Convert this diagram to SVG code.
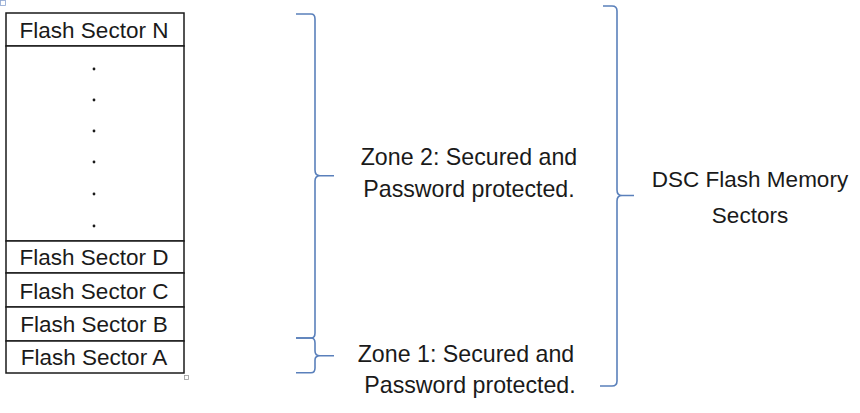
<svg xmlns="http://www.w3.org/2000/svg" width="860" height="413" viewBox="0 0 860 413">
<style>
.cell{fill:#fff;stroke:#1a1a1a;stroke-width:1.5}
.t{font-family:"Liberation Sans",Arial,sans-serif;font-size:22.5px;fill:#1a1a1a;text-anchor:middle}
.z{font-size:23.2px}
.dot{fill:#1a1a1a}
.brace{fill:none;stroke:#5a80bb;stroke-width:1.6;stroke-linejoin:round}
</style>
<rect width="860" height="413" fill="#fff"/>
<g id="sector-n"><rect class="cell" x="6" y="13" width="178" height="33"/><text class="t" x="94" y="37.5">Flash Sector N</text></g>
<g id="sector-gap"><rect class="cell" x="6" y="46" width="178" height="195"/>
<circle class="dot" cx="94" cy="69" r="1.4"/><circle class="dot" cx="94" cy="100" r="1.4"/><circle class="dot" cx="94" cy="131" r="1.4"/><circle class="dot" cx="94" cy="162" r="1.4"/><circle class="dot" cx="94" cy="194" r="1.4"/><circle class="dot" cx="94" cy="226" r="1.4"/></g>
<g id="sector-d"><rect class="cell" x="6" y="241" width="178" height="32"/><text class="t" x="94" y="265">Flash Sector D</text></g>
<g id="sector-c"><rect class="cell" x="6" y="273" width="178" height="34"/><text class="t" x="94" y="298.5">Flash Sector C</text></g>
<g id="sector-b"><rect class="cell" x="6" y="307" width="178" height="34"/><text class="t" x="94" y="332">Flash Sector B</text></g>
<g id="sector-a"><rect class="cell" x="6" y="341" width="178" height="32"/><text class="t" x="94" y="365">Flash Sector A</text></g>
<rect x="184.5" y="375.5" width="4" height="4" fill="none" stroke="#999" stroke-width="0.8"/>
<rect x="0.5" y="0.5" width="5" height="5" fill="none" stroke="#8aa4d0" stroke-width="0.8"/>
<g id="connectors">
<path class="brace" d="M296,14 L311,14 Q315,14 315,19 L315,170 Q315,175.7 320,175.7 L334,175.7 M320,175.7 Q315,175.7 315,181 L315,333 Q315,338 311,338 L296,338"/>
<path class="brace" d="M296,338 L311,338 Q315,338 315,343 L315,351 Q315,355.7 320,355.7 L334,355.7 M320,355.7 Q315,355.7 315,360 L315,368 Q315,372.7 311,372.7 L296,372.7"/>
<path class="brace" d="M603,6 L612,6 Q617,6 617,11 L617,190 Q617,195.5 622,195.5 L634,195.5 M622,195.5 Q617,195.5 617,201 L617,381 Q617,386 612,386 L600,386"/>
</g>
<g id="zone2"><text class="t z" x="469" y="165">Zone 2: Secured and</text><text class="t z" x="469" y="197">Password protected.</text></g>
<g id="zone1"><text class="t z" x="466" y="362">Zone 1: Secured and</text><text class="t z" x="470" y="393">Password protected.</text></g>
<g id="dsc"><text class="t" x="750" y="187">DSC Flash Memory</text><text class="t" x="750" y="223">Sectors</text></g>
</svg>
